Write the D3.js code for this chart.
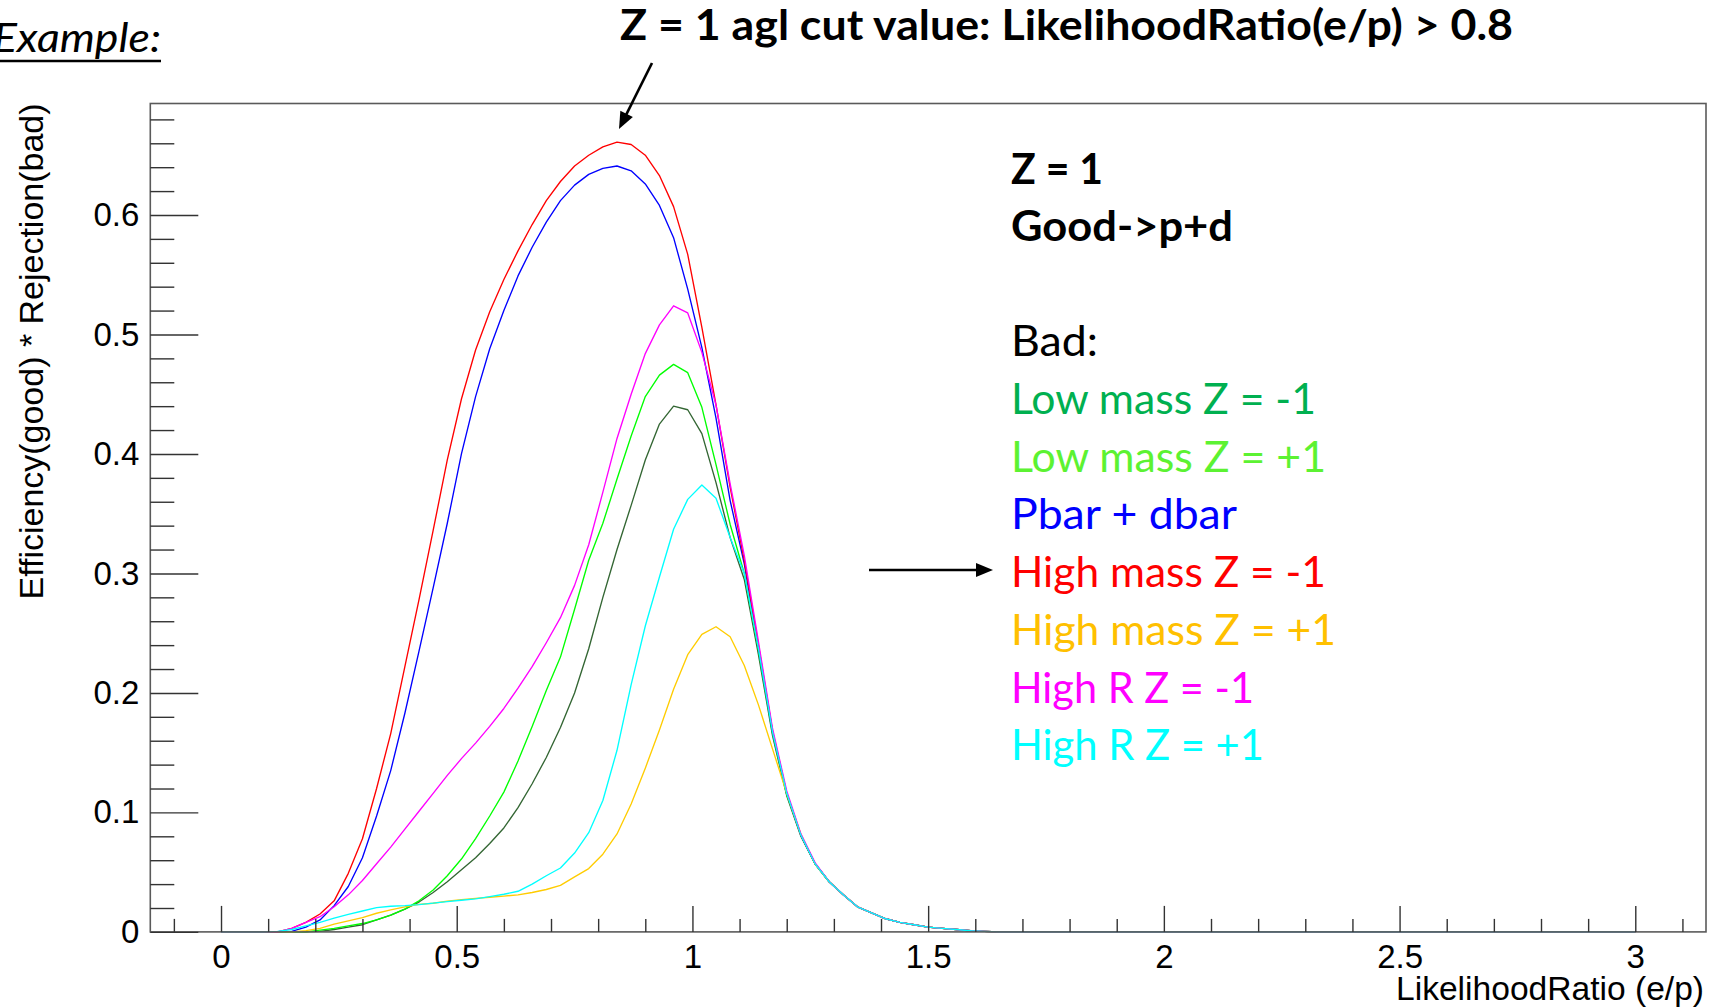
<!DOCTYPE html>
<html>
<head>
<meta charset="utf-8">
<script src="https://cdn.jsdelivr.net/npm/d3@7"></script>
<style>
  html, body { margin: 0; padding: 0; background: #fff; }
  svg { display: block; }
</style>
</head>
<body>
<script>
// LikelihoodRatio(e/p) cut value at each point (bin positions)
const likelihoodRatio = [
  0,0.03,0.06,0.09,0.12,0.15,0.18,0.21,0.24,0.27,
  0.30,0.33,0.36,0.39,0.42,0.45,0.48,0.51,0.54,0.57,
  0.60,0.63,0.66,0.69,0.72,0.75,0.78,0.81,0.84,0.87,
  0.90,0.93,0.96,0.99,1.02,1.05,1.08,1.11,1.14,1.17,
  1.20,1.23,1.26,1.29,1.32,1.35,1.38,1.41,1.44,1.47,
  1.50,1.53,1.56,1.59,1.62,1.65,1.68,1.71,1.74,1.77,
  1.80,1.83,1.86,1.89,1.92,1.95,1.98,2.01,2.04,2.07,
  2.10,2.13,2.16,2.19,2.22,2.25,2.28,2.31,2.34,2.37,
  2.40,2.43,2.46,2.49,2.52,2.55,2.58,2.61,2.64,2.67,
  2.70,2.73,2.76,2.79,2.82,2.85,2.88,2.91,2.94,2.97,
  3.00
];

// Efficiency(good) * Rejection(bad) for each "bad" sample
const lowMassNeg = [
  0,0,0,0,0,0,0,0.0005,0.002,0.004,
  0.006,0.010,0.014,0.019,0.025,0.033,0.042,0.052,0.062,0.074,
  0.087,0.104,0.124,0.146,0.171,0.200,0.237,0.280,0.320,0.357,
  0.395,0.425,0.440,0.437,0.417,0.376,0.330,0.295,0.232,0.164,
  0.114,0.080,0.057,0.042,0.031,0.021,0.016,0.011,0.008,0.006,
  0.004,0.003,0.002,0.001,0.0005,0,
  0,0,0,0,0,0,0,0,0,0,0,0,0,0,0,
  0,0,0,0,0,0,0,0,0,0,0,0,0,0,0,
  0,0,0,0,0,0,0,0,0,0,0,0,0,0,0
];
const lowMassPos = [
  0,0,0,0,0,0,0,0.0015,0.003,0.005,
  0.007,0.010,0.014,0.019,0.026,0.035,0.047,0.061,0.078,0.097,
  0.117,0.143,0.172,0.202,0.230,0.270,0.311,0.342,0.379,0.415,
  0.448,0.466,0.475,0.468,0.439,0.391,0.341,0.300,0.236,0.166,
  0.115,0.081,0.057,0.042,0.031,0.021,0.016,0.011,0.008,0.006,
  0.004,0.003,0.002,0.001,0.0005,0,
  0,0,0,0,0,0,0,0,0,0,0,0,0,0,0,
  0,0,0,0,0,0,0,0,0,0,0,0,0,0,0,
  0,0,0,0,0,0,0,0,0,0,0,0,0,0,0
];
const pbarDbar = [
  0,0,0,0,0,0.0005,0.004,0.010,0.022,0.038,
  0.062,0.097,0.135,0.183,0.235,0.288,0.342,0.400,0.448,0.488,
  0.520,0.549,0.573,0.594,0.612,0.625,0.634,0.639,0.641,0.637,
  0.626,0.608,0.581,0.538,0.489,0.430,0.361,0.308,0.238,0.167,
  0.116,0.081,0.057,0.042,0.031,0.021,0.016,0.011,0.008,0.006,
  0.004,0.003,0.002,0.001,0.0005,0,
  0,0,0,0,0,0,0,0,0,0,0,0,0,0,0,
  0,0,0,0,0,0,0,0,0,0,0,0,0,0,0,
  0,0,0,0,0,0,0,0,0,0,0,0,0,0,0
];
const highMassNeg = [
  0,0,0,0,0,0.003,0.008,0.015,0.026,0.049,
  0.078,0.120,0.166,0.222,0.278,0.336,0.395,0.446,0.487,0.519,
  0.546,0.570,0.592,0.612,0.628,0.641,0.650,0.657,0.661,0.659,
  0.650,0.633,0.607,0.567,0.506,0.441,0.372,0.311,0.240,0.168,
  0.116,0.081,0.057,0.042,0.031,0.021,0.016,0.011,0.008,0.006,
  0.004,0.003,0.002,0.001,0.0005,0,
  0,0,0,0,0,0,0,0,0,0,0,0,0,0,0,
  0,0,0,0,0,0,0,0,0,0,0,0,0,0,0,
  0,0,0,0,0,0,0,0,0,0,0,0,0,0,0
];
const highMassPos = [
  0,0,0,0,0,0,0.001,0.003,0.0065,0.0093,
  0.012,0.0156,0.0185,0.021,0.023,0.024,0.0257,0.027,0.028,0.029,
  0.030,0.031,0.033,0.0355,0.039,0.046,0.053,0.065,0.082,0.107,
  0.137,0.169,0.203,0.232,0.249,0.2554,0.247,0.223,0.190,0.153,
  0.116,0.082,0.057,0.042,0.031,0.021,0.016,0.011,0.008,0.006,
  0.004,0.003,0.002,0.001,0.0005,0,
  0,0,0,0,0,0,0,0,0,0,0,0,0,0,0,
  0,0,0,0,0,0,0,0,0,0,0,0,0,0,0,
  0,0,0,0,0,0,0,0,0,0,0,0,0,0,0
];
const highRNeg = [
  0,0,0,0,0,0.003,0.008,0.0127,0.021,0.031,
  0.043,0.057,0.071,0.086,0.101,0.116,0.131,0.145,0.158,0.172,
  0.187,0.204,0.222,0.242,0.263,0.290,0.324,0.368,0.413,0.450,
  0.484,0.508,0.524,0.518,0.485,0.441,0.375,0.315,0.243,0.170,
  0.118,0.082,0.058,0.042,0.031,0.021,0.016,0.011,0.008,0.006,
  0.004,0.003,0.002,0.001,0.0005,0,
  0,0,0,0,0,0,0,0,0,0,0,0,0,0,0,
  0,0,0,0,0,0,0,0,0,0,0,0,0,0,0,
  0,0,0,0,0,0,0,0,0,0,0,0,0,0,0
];
const highRPos = [
  0,0,0,0,0.0005,0.002,0.005,0.008,0.0115,0.0146,
  0.0175,0.0203,0.0215,0.022,0.0228,0.0241,0.0253,0.0265,0.0277,0.0295,
  0.0315,0.034,0.040,0.047,0.0535,0.066,0.083,0.110,0.152,0.207,
  0.256,0.297,0.337,0.362,0.374,0.363,0.330,0.300,0.237,0.167,
  0.116,0.081,0.057,0.042,0.031,0.021,0.016,0.011,0.008,0.006,
  0.004,0.003,0.002,0.001,0.0005,0,
  0,0,0,0,0,0,0,0,0,0,0,0,0,0,0,
  0,0,0,0,0,0,0,0,0,0,0,0,0,0,0,
  0,0,0,0,0,0,0,0,0,0,0,0,0,0,0
];

const seriesNames = ["Low mass Z = -1", "Low mass Z = +1", "Pbar + dbar", "High mass Z = -1",
                     "High mass Z = +1", "High R Z = -1", "High R Z = +1"];
const seriesValues = [lowMassNeg, lowMassPos, pbarDbar, highMassNeg, highMassPos, highRNeg, highRPos];
const lineColors = ["#336633", "#00ff00", "#0000ff", "#ff0000", "#ffcc00", "#ff00ff", "#00ffff"];
const textColors = ["#00b050", "#5cf232", "#0000ff", "#ff0000", "#ffc000", "#ff00ff", "#00ffff"];
const legendWidths = [305, 315, 226, 315, 325, 243, 253];

const xTickValues = [0, 0.5, 1, 1.5, 2, 2.5, 3];
const xTickLabels = ["0", "0.5", "1", "1.5", "2", "2.5", "3"];
const yTickValues = [0, 0.1, 0.2, 0.3, 0.4, 0.5, 0.6];
const yTickLabels = ["0", "0.1", "0.2", "0.3", "0.4", "0.5", "0.6"];

// ---- layout ----
const W = 1709, H = 1008;
const frame = { left: 150.3, right: 1706, top: 103.5, bottom: 931.9 };
const axisFont = "'Liberation Sans', Arial, Helvetica, sans-serif";
const slideFont = "Lato, 'Open Sans', sans-serif";

const svg = d3.select("body").append("svg")
  .attr("width", W).attr("height", H)
  .attr("viewBox", `0 0 ${W} ${H}`);

svg.append("rect").attr("width", W).attr("height", H).attr("fill", "#fff");

const x = d3.scaleLinear().domain([-0.15, 3.15]).range([frame.left, frame.right]);
const y = d3.scaleLinear().domain([0, 0.6933]).range([frame.bottom, frame.top]);

// curves
const line = d3.line()
  .x((d, i) => x(likelihoodRatio[i]))
  .y(d => y(d));

const curves = svg.append("g").attr("fill", "none").attr("stroke-width", 1.35)
  .attr("stroke-linejoin", "round");
seriesValues.forEach((vals, s) => {
  curves.append("path")
    .attr("d", line(vals))
    .attr("stroke", lineColors[s]);
});

// frame
svg.append("rect")
  .attr("x", frame.left).attr("y", frame.top)
  .attr("width", frame.right - frame.left).attr("height", frame.bottom - frame.top)
  .attr("fill", "none").attr("stroke", "#5a5a5a").attr("stroke-width", 1.6);

// x axis: majors, minors
const xMinor = d3.range(-1, 32).filter(i => i % 5 !== 0).map(i => i / 10);
const gxMinor = svg.append("g").attr("transform", `translate(0,${frame.bottom})`)
  .call(d3.axisBottom(x).tickValues(xMinor).tickFormat("").tickSizeInner(-13).tickSizeOuter(0));
const gx = svg.append("g").attr("transform", `translate(0,${frame.bottom})`)
  .call(d3.axisBottom(x).tickValues(xTickValues)
    .tickFormat((d, i) => xTickLabels[i])
    .tickSizeInner(-26).tickSizeOuter(0).tickPadding(13));

// y axis: majors, minors
const yMinor = d3.range(1, 35).filter(i => i % 5 !== 0).map(i => i / 50);
const gyMinor = svg.append("g").attr("transform", `translate(${frame.left},0)`)
  .call(d3.axisLeft(y).tickValues(yMinor).tickFormat("").tickSizeInner(-24).tickSizeOuter(0));
const gy = svg.append("g").attr("transform", `translate(${frame.left},0)`)
  .call(d3.axisLeft(y).tickValues(yTickValues)
    .tickFormat((d, i) => yTickLabels[i])
    .tickSizeInner(-48).tickSizeOuter(0).tickPadding(11));

[gxMinor, gx, gyMinor, gy].forEach(g => {
  g.select(".domain").remove();
  g.selectAll(".tick line").attr("stroke", "#333").attr("stroke-width", 1.4);
  g.selectAll(".tick text")
    .attr("font-family", axisFont).attr("font-size", 33).attr("fill", "#000");
});

// axis titles
svg.append("text")
  .attr("x", 1704).attr("y", 1000)
  .attr("text-anchor", "end")
  .attr("font-family", axisFont).attr("font-size", 33)
  .attr("textLength", 308).attr("lengthAdjust", "spacingAndGlyphs")
  .text("LikelihoodRatio (e/p)");

svg.append("text")
  .attr("transform", `translate(43,${frame.top}) rotate(-90)`)
  .attr("text-anchor", "end")
  .attr("font-family", axisFont).attr("font-size", 33)
  .attr("textLength", 496).attr("lengthAdjust", "spacingAndGlyphs")
  .text("Efficiency(good) * Rejection(bad)");

// headline
svg.append("text")
  .attr("x", 620).attr("y", 40)
  .attr("font-family", slideFont).attr("font-weight", 700).attr("font-size", 42)
  .attr("textLength", 893).attr("lengthAdjust", "spacingAndGlyphs")
  .text("Z = 1 agl cut value: LikelihoodRatio(e/p) > 0.8");

svg.append("text")
  .attr("x", -7).attr("y", 52)
  .attr("font-family", slideFont).attr("font-style", "italic").attr("font-size", 40)
  .attr("textLength", 168).attr("lengthAdjust", "spacingAndGlyphs")
  .text("Example:");
svg.append("line")
  .attr("x1", 0).attr("x2", 161).attr("y1", 61).attr("y2", 61)
  .attr("stroke", "#000").attr("stroke-width", 2.4);

// arrows
function arrow(x1, y1, x2, y2) {
  const dx = x2 - x1, dy = y2 - y1, len = Math.hypot(dx, dy);
  const ux = dx / len, uy = dy / len, px = -uy, py = ux;
  const hl = 17, hw = 7;
  const bx = x2 - ux * hl, by = y2 - uy * hl;
  svg.append("line").attr("x1", x1).attr("y1", y1).attr("x2", bx + ux * 2).attr("y2", by + uy * 2)
    .attr("stroke", "#000").attr("stroke-width", 2.6);
  svg.append("path")
    .attr("d", `M${x2},${y2}L${bx + px * hw},${by + py * hw}L${bx - px * hw},${by - py * hw}Z`)
    .attr("fill", "#000");
}
arrow(652, 63, 619, 129);
arrow(869, 570, 993, 570);

// legend block
const legX = 1011;
const header = svg.append("g").attr("font-family", slideFont).attr("font-size", 42).attr("fill", "#000");
header.append("text").attr("x", legX).attr("y", 184).attr("font-weight", 700)
  .attr("textLength", 92).attr("lengthAdjust", "spacingAndGlyphs").text("Z = 1");
header.append("text").attr("x", legX).attr("y", 241).attr("font-weight", 700)
  .attr("textLength", 222).attr("lengthAdjust", "spacingAndGlyphs").text("Good->p+d");
header.append("text").attr("x", legX).attr("y", 356)
  .attr("textLength", 87).attr("lengthAdjust", "spacingAndGlyphs").text("Bad:");

const legend = svg.append("g").attr("font-family", slideFont).attr("font-size", 42);
seriesNames.forEach((name, i) => {
  legend.append("text")
    .attr("x", legX).attr("y", 414 + i * 57.7)
    .attr("fill", textColors[i])
    .attr("textLength", legendWidths[i]).attr("lengthAdjust", "spacingAndGlyphs")
    .text(name);
});
</script>
</body>
</html>
